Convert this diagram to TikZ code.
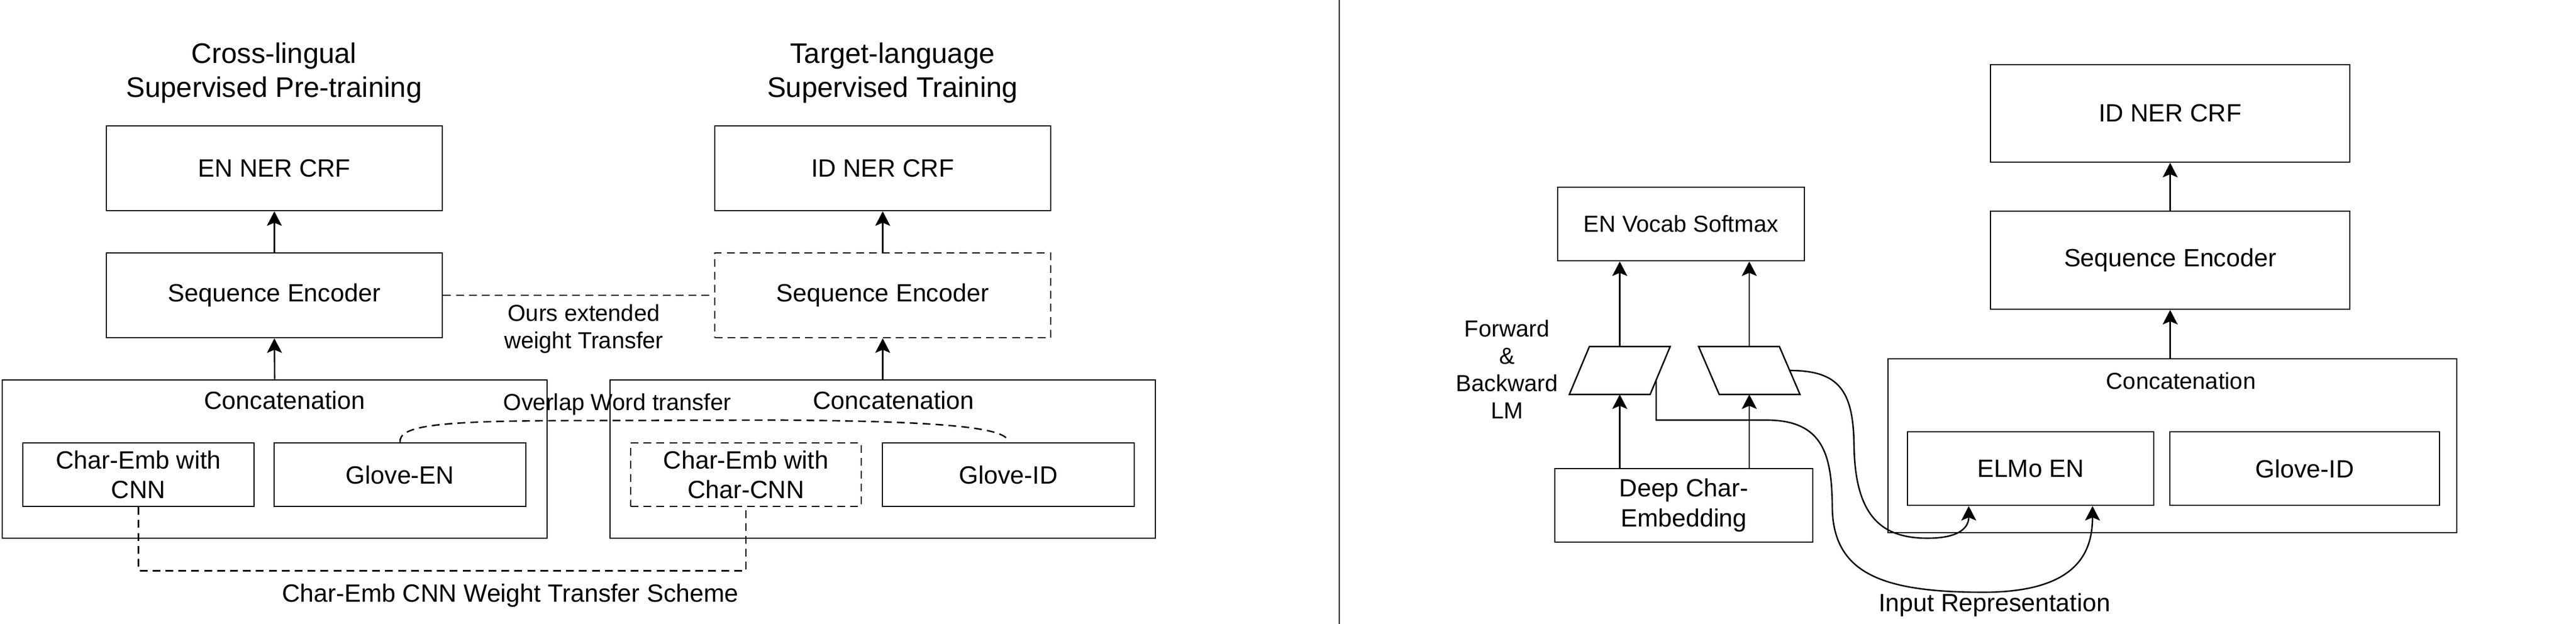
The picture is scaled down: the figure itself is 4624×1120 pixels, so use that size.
\documentclass[tikz,border=0pt]{standalone}
\usepackage{fontspec}
\setmainfont{Liberation Sans}
\usetikzlibrary{arrows.meta}
\usetikzlibrary{calc}

\tikzset{
  box/.style={draw,line width=0.65pt,align=center,inner sep=1pt,font=\fontsize{11.2}{13.3}\selectfont},
  dbox/.style={box,dash pattern=on 3.5pt off 2.3pt},
  shp/.style={draw,line width=0.65pt,line join=miter},
  lbl/.style={align=center,inner sep=0pt,font=\fontsize{10.4}{12.3}\selectfont},
  txt/.style={align=center,inner sep=0pt,font=\fontsize{11.2}{13.3}\selectfont},
  ttl/.style={align=center,inner sep=0pt,font=\fontsize{12.7}{15.25}\selectfont},
  arr/.style={-{Stealth[length=6.5pt,width=6.7pt,inset=1.4pt]},line width=0.65pt},
  dline/.style={line width=0.65pt,dash pattern=on 3.5pt off 2.3pt}
}

\begin{document}
\begin{tikzpicture}[x=0.25pt,y=-0.25pt]
\useasboundingbox (0,0) rectangle (4624,1120);

% cross-lingual pre-training
\path (492,131) node[ttl] (t1) {Cross-lingual\\Supervised Pre-training};
\path (492.5,302) node[box,minimum width=150.75pt,minimum height=38pt] (encrf) {EN NER CRF};
\path (492.5,530) node[box,minimum width=150.75pt,minimum height=38pt] (enenc) {Sequence Encoder};
\path (493,824) node[box,minimum width=244.5pt,minimum height=71pt] (catL) {};
\path (511,718) node[txt] (catLtxt) {Concatenation};
\path (248.5,852) node[box,minimum width=103.75pt,minimum height=28.5pt] (charL) {Char-Emb with\\CNN};
\path (718,852) node[box,minimum width=113pt,minimum height=28.5pt] (gloveEN) {Glove-EN};

% target-language training
\path (1602,131) node[ttl] (t2) {Target-language\\Supervised Training};
\path (1584.5,302) node[box,minimum width=150.75pt,minimum height=38pt] (idcrf) {ID NER CRF};
\path (1584.5,530) node[dbox,minimum width=150.75pt,minimum height=38pt] (idenc) {Sequence Encoder};
\path (1584.5,824) node[box,minimum width=244.75pt,minimum height=71pt] (catR) {};
\path (1604,718) node[txt] (catRtxt) {Concatenation};
\path (1339,852) node[dbox,minimum width=103.5pt,minimum height=28.5pt] (charR) {Char-Emb with\\Char-CNN};
\path (1810,852) node[box,minimum width=113pt,minimum height=28.5pt] (gloveID) {Glove-ID};

\draw[arr] (enenc.north) -- (encrf.south);
\draw[arr] (catL.north) -- (enenc.south);
\draw[arr] (idenc.north) -- (idcrf.south);
\draw[arr] (catR.north) -- (idenc.south);

% transfer links
\draw[dline] (enenc.east) -- (idenc.west);
\path (1048,590) node[lbl] (oursext) {Ours extended\\weight Transfer};
\draw[dline] (gloveEN.north) .. controls (716,765) and (780,756) .. (1000,755)
   -- (1400,754) .. controls (1700,756) and (1810,768) .. (gloveID.north);
\path (1108,726) node[lbl] (overlap) {Overlap Word transfer};
\draw[dline] (charL.south) -- ++(0,114) -| (charR.south);
\path (916,1069) node[txt] (cnntrans) {Char-Emb CNN Weight Transfer Scheme};

\draw[line width=0.65pt] (2404,0) -- (2404,1120);

% ELMo language model
\path (3017.5,402) node[box,font=\fontsize{10.4}{12.3}\selectfont,minimum width=110.75pt,minimum height=33pt] (softmax) {EN Vocab Softmax};
\coordinate (paraL) at (2907.5,665);
\coordinate (paraR) at (3140,665);
\draw[shp] (2817,708) coordinate (paraLbl) -- (2962,708) coordinate (paraLbr)
   -- (2998,622) coordinate (paraLtr) -- (2853,622) coordinate (paraLtl) -- cycle;
\draw[shp] (3086,708) coordinate (paraRbl) -- (3231,708) coordinate (paraRbr)
   -- (3194,622) coordinate (paraRtr) -- (3049,622) coordinate (paraRtl) -- cycle;
\path (3022.5,907) node[box,minimum width=115.75pt,minimum height=33pt] (deepchar) {Deep Char-\\Embedding};
\path (2705,663) node[lbl] (fwbw) {Forward\\\&\\Backward\\LM};

\draw[arr] (deepchar.north -| paraL) -- (paraLbl -| paraL);
\draw[arr] (deepchar.north -| paraR) -- (paraRbl -| paraR);
\draw[arr] (paraLtl -| paraL) -- (softmax.south -| paraL);
\draw[arr] (paraRtl -| paraR) -- (softmax.south -| paraR);

% target model with ELMo
\path (3895.5,203.5) node[box,minimum width=161.25pt,minimum height=43.75pt] (idcrf2) {ID NER CRF};
\path (3895.5,467) node[box,minimum width=161.25pt,minimum height=44pt] (idenc2) {Sequence Encoder};
\path (3899.5,800) node[box,minimum width=255.25pt,minimum height=78pt] (cat2) {};
\path (3915,684) node[lbl] (cat2txt) {Concatenation};
\path (3645,841) node[box,minimum width=110.5pt,minimum height=33pt] (elmo) {ELMo EN};
\path (4137,841) node[box,minimum width=121pt,minimum height=33pt] (glove2) {Glove-ID};

\draw[arr] (idenc2.north) -- (idcrf2.south);
\draw[arr] (idenc2.south |- cat2.north) -- (idenc2.south);

\draw[arr] ($(paraLbr)!0.3!(paraLtr)$) |- (3171,754)
   .. controls (3275,754) and (3288,820) .. (3289,910)
   .. controls (3290,1030) and (3380,1063) .. (3560,1063)
   .. controls (3730,1063) and (3756,990) .. ($(elmo.south west)!0.75!(elmo.south east)$);
\draw[arr] ($(paraRbr)!0.5!(paraRtr)$) .. controls (3300,665) and (3327,700) .. (3328,800)
   .. controls (3330,930) and (3380,966) .. (3460,966)
   .. controls (3520,966) and (3534,945) .. ($(elmo.south west)!0.25!(elmo.south east)$);
\path (3580,1086) node[txt] (inrep) {Input Representation};
\end{tikzpicture}
\end{document}
